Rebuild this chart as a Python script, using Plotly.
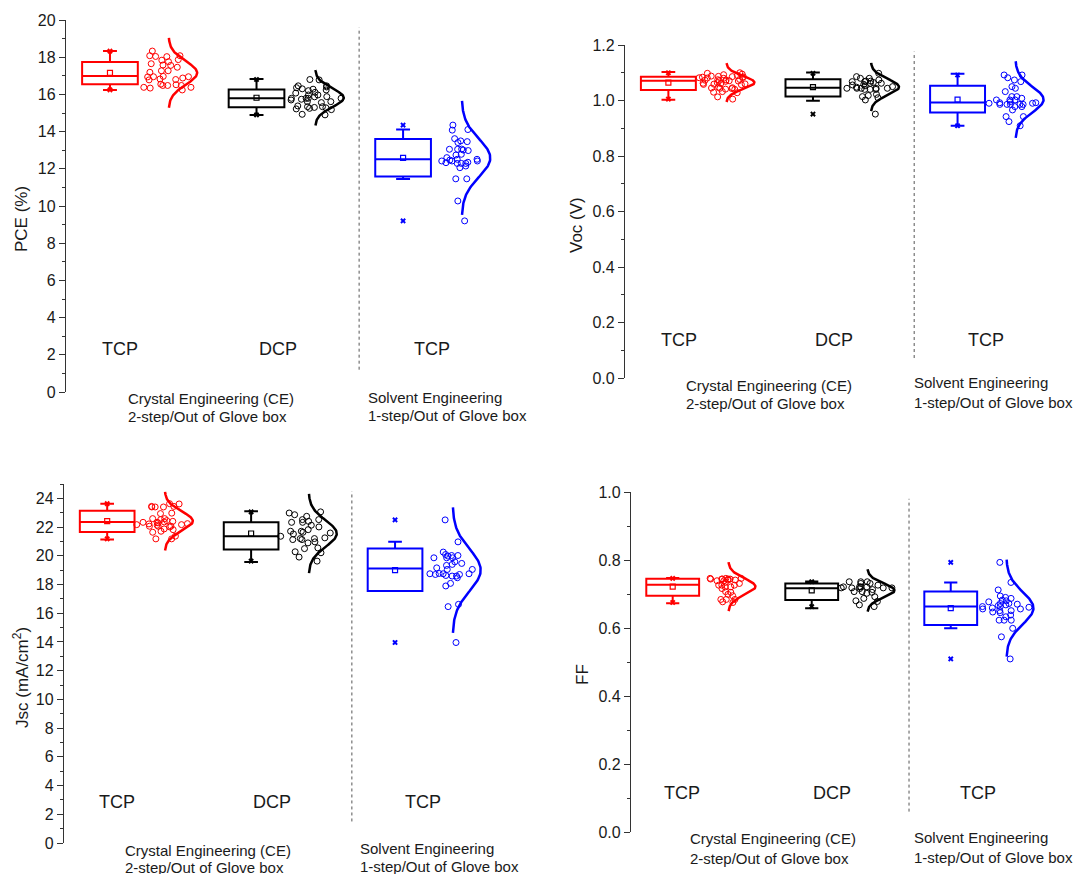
import numpy as np
import plotly.graph_objects as go

W, H = 1084, 874

groups = ['TCP', 'DCP', 'TCP']
group_x = [1, 2, 3]
colors = ['#ff0000', '#000000', '#0000ff']

# PCE (%) - individual devices
pce_tcp_ce = [16.95, 16.24, 16.38, 17.46, 16.48, 17.84, 16.38, 16.97, 16.52, 17.56, 18.08,
              16.95, 17.19, 18.04, 16.55, 16.94, 18.03, 17.27, 16.80, 18.08, 17.87, 16.78,
              18.33, 17.27, 16.48, 17.58, 16.48, 17.76, 17.65, 16.34, 16.88, 16.83]
pce_dcp_ce = [15.79, 15.87, 15.25, 16.30, 15.22, 16.40, 15.28, 16.46, 15.70, 16.36, 15.79,
              16.78, 15.34, 15.88, 16.28, 14.93, 15.56, 16.11, 14.90, 16.24, 15.61, 15.79,
              16.80, 16.46, 15.30, 16.07, 15.79, 16.20, 15.61, 15.97, 15.74, 15.18, 15.97,
              15.38, 15.34]
pce_tcp_se = [12.15, 12.51, 12.51, 12.06, 12.33, 12.98, 13.05, 12.42, 13.62, 12.42, 13.01,
              14.11, 11.46, 13.41, 14.35, 11.46, 10.27, 9.20, 12.60, 14.08, 13.46, 12.47,
              13.06, 12.42, 13.05, 12.29, 13.50, 12.29, 12.29, 12.74, 12.35, 12.78]
pce_q1 = [16.54, 15.31, 11.58]
pce_median = [16.99, 15.79, 12.52]
pce_q3 = [17.74, 16.27, 13.60]
pce_whisker_lo = [16.24, 14.89, 11.45]
pce_whisker_hi = [18.33, 16.83, 14.11]

# Voc (V)
voc_tcp_ce = [1.100, 1.098, 1.095, 1.093, 1.090, 1.088, 1.086, 1.084, 1.085, 1.083, 1.082,
              1.087, 1.081, 1.080, 1.075, 1.073, 1.072, 1.071, 1.074, 1.076, 1.070, 1.069,
              1.062, 1.060, 1.061, 1.058, 1.064, 1.059, 1.057, 1.045, 1.043, 1.046, 1.041,
              1.040, 1.048, 1.044, 1.030, 1.028, 1.032, 1.013, 1.005]
voc_dcp_ce = [1.048, 1.053, 1.068, 1.056, 1.070, 1.044, 1.080, 1.022, 1.062, 1.044, 1.080,
              1.014, 1.040, 1.086, 1.002, 1.062, 1.044, 1.018, 1.074, 1.098, 1.040, 1.058,
              1.040, 1.070, 1.044, 1.065, 1.050, 1.068, 1.044, 0.951, 1.010]
voc_tcp_se = [0.986, 0.986, 0.992, 1.014, 0.986, 1.082, 1.002, 0.978, 0.942, 1.068, 1.050,
              1.032, 1.092, 1.014, 0.966, 0.924, 0.990, 1.074, 1.044, 1.002, 0.978, 0.942,
              1.008, 0.986, 1.092, 0.996, 1.002, 0.986, 0.992, 0.990, 0.909]
voc_q1 = [1.038, 1.014, 0.957]
voc_median = [1.071, 1.046, 0.993]
voc_q3 = [1.086, 1.077, 1.053]
voc_whisker_lo = [1.003, 0.999, 0.909]
voc_whisker_hi = [1.103, 1.101, 1.096]

# Jsc (mA/cm2)
jsc_tcp_ce = [22.33, 22.06, 22.17, 22.45, 22.24, 23.63, 21.87, 23.44, 22.40, 22.94, 21.64,
              23.40, 22.52, 21.18, 22.06, 23.40, 21.37, 22.13, 23.44, 21.18, 21.82, 22.59,
              23.40, 22.22, 22.59, 22.97, 21.71, 22.36, 23.61, 22.06, 22.33, 22.17, 22.01,
              22.29]
jsc_dcp_ce = [20.97, 21.20, 21.82, 22.13, 21.71, 22.75, 21.59, 22.40, 20.50, 22.01, 21.13,
              20.21, 22.33, 21.13, 23.06, 19.91, 22.33, 19.63, 20.28, 22.86, 21.71, 20.55,
              21.64, 22.98, 20.90, 21.20, 22.52, 22.52, 21.25, 21.36, 21.52]
jsc_tcp_se = [19.58, 18.47, 19.05, 18.08, 19.86, 18.63, 19.98, 18.77, 20.02, 18.70, 19.40,
              16.62, 20.02, 22.50, 20.97, 17.90, 16.46, 18.70, 20.09, 19.47, 19.05, 18.75,
              20.26, 19.33, 18.75, 18.75, 19.86, 18.59, 19.16, 18.59, 19.86, 13.96]
jsc_q1 = [21.66, 20.44, 17.55]
jsc_median = [22.36, 21.37, 19.12]
jsc_q3 = [23.14, 22.33, 20.51]
jsc_whisker_lo = [21.13, 19.56, 17.90]
jsc_whisker_hi = [23.63, 23.10, 20.97]

# FF
ff_tcp_ce = [0.744, 0.744, 0.739, 0.746, 0.734, 0.716, 0.739, 0.726, 0.675, 0.705, 0.695,
             0.684, 0.744, 0.721, 0.707, 0.684, 0.699, 0.684, 0.677, 0.726, 0.746, 0.721,
             0.726, 0.731, 0.741, 0.744, 0.741, 0.746, 0.744]
ff_dcp_ce = [0.718, 0.705, 0.731, 0.736, 0.718, 0.713, 0.718, 0.721, 0.668, 0.721, 0.718,
             0.680, 0.678, 0.692, 0.707, 0.687, 0.721, 0.663, 0.731, 0.721, 0.716, 0.726,
             0.736, 0.736, 0.707, 0.702]
ff_tcp_se = [0.672, 0.668, 0.651, 0.663, 0.677, 0.656, 0.623, 0.687, 0.638, 0.680, 0.656,
             0.623, 0.574, 0.734, 0.647, 0.661, 0.599, 0.712, 0.645, 0.672, 0.651, 0.690,
             0.633, 0.623, 0.666, 0.663, 0.659, 0.670, 0.694, 0.682, 0.793, 0.509]
ff_q1 = [0.695, 0.682, 0.609]
ff_median = [0.727, 0.717, 0.663]
ff_q3 = [0.745, 0.731, 0.707]
ff_whisker_lo = [0.673, 0.658, 0.599]
ff_whisker_hi = [0.747, 0.737, 0.734]

ce_text = ['Crystal Engineering (CE)', '2-step/Out of Glove box']
se_text = ['Solvent Engineering', '1-step/Out of Glove box']

FONT = 'Liberation Sans, Arial, sans-serif'
TXT = '#1a1a1a'
BOX_W = 0.38
PTS_W = 0.40   # invisible box that carries the jittered points
CURVE_X0 = 0.40
CURVE_AMP = 0.195
LABEL_DX = [0.07, 0.145, 0.195]
SEP_X = 2.70
OFF = 8  # the page body adds an 8px margin around the figure
FIG_W, FIG_H = W - OFF, H - OFF


def fx(p):
    return (p - OFF) / FIG_W


def fy(p):
    return 1 - (p - OFF) / FIG_H


panels = [
    dict(n=1, pts=[pce_tcp_ce, pce_dcp_ce, pce_tcp_se], q1=pce_q1, med=pce_median, q3=pce_q3,
         lo=pce_whisker_lo, hi=pce_whisker_hi, yr=[0, 20], dtick=2, minor=1, fmt='d',
         xpx=(66, 513), ypx=(20, 392), title='PCE (%)', tpos=(22, 219),
         ce=(126, 398, 416), se=(366, 397, 415)),
    dict(n=2, pts=[voc_tcp_ce, voc_dcp_ce, voc_tcp_se], q1=voc_q1, med=voc_median, q3=voc_q3,
         lo=voc_whisker_lo, hi=voc_whisker_hi, yr=[0, 1.2], dtick=0.2, minor=0.1, fmt='.1f',
         xpx=(625, 1066), ypx=(45, 378), title='Voc (V)', tpos=(577, 225),
         ce=(684, 385, 403), se=(912, 383, 402)),
    dict(n=3, pts=[jsc_tcp_ce, jsc_dcp_ce, jsc_tcp_se], q1=jsc_q1, med=jsc_median, q3=jsc_q3,
         lo=jsc_whisker_lo, hi=jsc_whisker_hi, yr=[0, 25], dtick=2, minor=1, fmt='d',
         xpx=(64, 503), ypx=(484, 843), title='Jsc (mA/cm<sup>2</sup>)', tpos=(21, 678),
         ce=(123, 850, 867), se=(358, 848, 866)),
    dict(n=4, pts=[ff_tcp_ce, ff_dcp_ce, ff_tcp_se], q1=ff_q1, med=ff_median, q3=ff_q3,
         lo=ff_whisker_lo, hi=ff_whisker_hi, yr=[0, 1.0], dtick=0.2, minor=0.1, fmt='.1f',
         xpx=(631, 1055), ypx=(492, 832), title='FF', tpos=(582, 675),
         ce=(688, 838, 858), se=(912, 837, 857)),
]

fig = go.Figure()
annotations = []
shapes = []
layout_axes = {}

for p in panels:
    n = p['n']
    xa = 'x' if n == 1 else f'x{n}'
    ya = 'y' if n == 1 else f'y{n}'
    for i in range(3):
        pos = group_x[i]
        c = colors[i]
        pts = np.array(p['pts'][i])
        # box from summary values
        fig.add_trace(go.Box(
            x=[pos], q1=[p['q1'][i]], median=[p['med'][i]], q3=[p['q3'][i]],
            lowerfence=[p['lo'][i]], upperfence=[p['hi'][i]],
            width=BOX_W, whiskerwidth=0.25, boxpoints=False,
            line=dict(color=c, width=2), fillcolor='rgba(0,0,0,0)',
            xaxis=xa, yaxis=ya, showlegend=False))
        # data points beside the box
        fig.add_trace(go.Box(
            y=pts, x0=pos, width=PTS_W, boxpoints='all', jitter=1, pointpos=2,
            line=dict(color='rgba(0,0,0,0)', width=0), fillcolor='rgba(0,0,0,0)',
            marker=dict(symbol='circle-open', size=6, color=c, line=dict(width=1, color=c)),
            xaxis=xa, yaxis=ya, showlegend=False))
        # normal distribution curve
        m, s = pts.mean(), pts.std(ddof=1)
        yy = np.linspace(m - 3 * s, m + 3 * s, 121)
        xx = pos + CURVE_X0 + CURVE_AMP * np.exp(-0.5 * ((yy - m) / s) ** 2)
        fig.add_trace(go.Scatter(x=xx, y=yy, mode='lines', line=dict(color=c, width=2.5),
                                 xaxis=xa, yaxis=ya, showlegend=False, hoverinfo='skip'))
        # mean and min/max markers
        fig.add_trace(go.Scatter(x=[pos], y=[m], mode='markers',
                                 marker=dict(symbol='square-open', size=5, color=c,
                                             line=dict(width=1.2, color=c)),
                                 xaxis=xa, yaxis=ya, showlegend=False))
        fig.add_trace(go.Scatter(x=[pos, pos], y=[pts.min(), pts.max()], mode='markers',
                                 marker=dict(symbol='x', size=5, color=c, line=dict(width=0)),
                                 xaxis=xa, yaxis=ya, showlegend=False))
        annotations.append(dict(text=groups[i], x=pos + LABEL_DX[i], xref=xa,
                                y=0.115, yref=f'{ya} domain', showarrow=False,
                                xanchor='center', yanchor='middle',
                                font=dict(size=18, color=TXT, family=FONT)))

    shapes.append(dict(type='line', xref=xa, x0=SEP_X, x1=SEP_X,
                       yref=f'{ya} domain', y0=0.06, y1=0.98,
                       line=dict(color='#555', width=1, dash='dot')))

    x0px, x1px = p['xpx']
    y0px, y1px = p['ypx']
    layout_axes['xaxis' if n == 1 else f'xaxis{n}'] = dict(
        domain=[fx(x0px), fx(x1px)], range=[0.70, 3.75], visible=False, anchor=ya,
        automargin=False)
    layout_axes['yaxis' if n == 1 else f'yaxis{n}'] = dict(
        domain=[fy(y1px), fy(y0px)], range=p['yr'], anchor=xa, automargin=False,
        showline=True, linecolor='#333', linewidth=1.3, mirror=False,
        ticks='outside', ticklen=6, tickwidth=1.3, tickcolor='#333',
        dtick=p['dtick'], tick0=0, tickformat=p['fmt'],
        minor=dict(ticks='outside', ticklen=3, tickwidth=1.2, tickcolor='#333', dtick=p['minor']),
        showgrid=False, zeroline=False,
        tickfont=dict(size=16, color=TXT, family=FONT))

    tx, ty = p['tpos']
    annotations.append(dict(text=p['title'], x=fx(tx), y=fy(ty), xref='paper', yref='paper',
                            xanchor='center', yanchor='middle',
                            textangle=-90, showarrow=False,
                            font=dict(size=17, color=TXT, family=FONT)))
    for txt_lines, (lx, l1, l2) in ((ce_text, p['ce']), (se_text, p['se'])):
        for line, ly in zip(txt_lines, (l1, l2)):
            annotations.append(dict(text=line, x=fx(lx), y=fy(ly), xref='paper', yref='paper',
                                    xanchor='left', yanchor='middle', showarrow=False,
                                    font=dict(size=15, color=TXT, family=FONT)))

fig.update_layout(
    width=FIG_W, height=FIG_H, autosize=False,
    margin=dict(l=0, r=0, t=0, b=0, pad=0, autoexpand=False),
    paper_bgcolor='white', plot_bgcolor='white',
    boxmode='overlay', showlegend=False,
    annotations=annotations, shapes=shapes,
    **layout_axes)

fig.write_html('out.html')
